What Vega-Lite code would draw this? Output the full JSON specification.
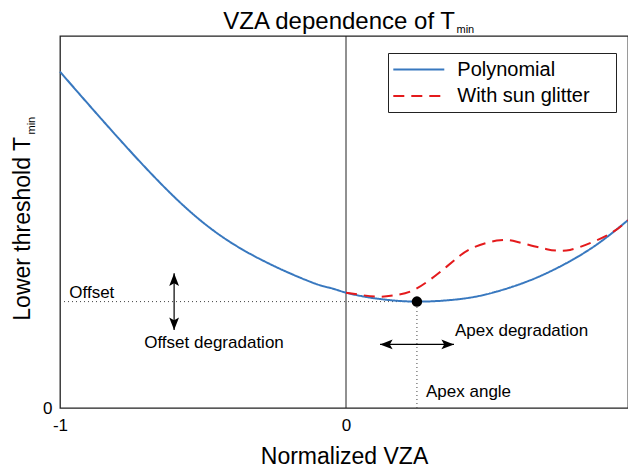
{
  "$schema": "https://vega.github.io/schema/vega-lite/v6.json",
  "width": 568,
  "height": 372,
  "autosize": {"type": "none"},
  "padding": {"left": 60, "top": 36, "right": 0, "bottom": 61},
  "background": "white",
  "config": {
    "view": {"stroke": "#222", "strokeWidth": 1.3},
    "font": "Liberation Sans",
    "text": {"font": "Liberation Sans", "color": "#000"}
  },
  "datasets": {
    "curves": [
      {"x": -1, "y": 0.904, "series": "Polynomial"},
      {"x": -0.837, "y": 0.761, "series": "Polynomial"},
      {"x": -0.604, "y": 0.570, "series": "Polynomial"},
      {"x": -0.371, "y": 0.430, "series": "Polynomial"},
      {"x": -0.137, "y": 0.343, "series": "Polynomial"},
      {"x": -0.056, "y": 0.323, "series": "Polynomial"},
      {"x": 0, "y": 0.310, "series": "Polynomial"},
      {"x": 0.06, "y": 0.300, "series": "Polynomial"},
      {"x": 0.119, "y": 0.293, "series": "Polynomial"},
      {"x": 0.248, "y": 0.286, "series": "Polynomial"},
      {"x": 0.410, "y": 0.294, "series": "Polynomial"},
      {"x": 0.527, "y": 0.313, "series": "Polynomial"},
      {"x": 0.643, "y": 0.343, "series": "Polynomial"},
      {"x": 0.760, "y": 0.385, "series": "Polynomial"},
      {"x": 0.876, "y": 0.439, "series": "Polynomial"},
      {"x": 0.986, "y": 0.505, "series": "Polynomial"},
      {"x": 0, "y": 0.310, "series": "With sun glitter"},
      {"x": 0.06, "y": 0.303, "series": "With sun glitter"},
      {"x": 0.119, "y": 0.299, "series": "With sun glitter"},
      {"x": 0.177, "y": 0.304, "series": "With sun glitter"},
      {"x": 0.249, "y": 0.322, "series": "With sun glitter"},
      {"x": 0.352, "y": 0.380, "series": "With sun glitter"},
      {"x": 0.434, "y": 0.427, "series": "With sun glitter"},
      {"x": 0.527, "y": 0.450, "series": "With sun glitter"},
      {"x": 0.597, "y": 0.447, "series": "With sun glitter"},
      {"x": 0.702, "y": 0.427, "series": "With sun glitter"},
      {"x": 0.783, "y": 0.425, "series": "With sun glitter"},
      {"x": 0.865, "y": 0.447, "series": "With sun glitter"},
      {"x": 0.935, "y": 0.474, "series": "With sun glitter"},
      {"x": 0.986, "y": 0.505, "series": "With sun glitter"}
    ],
    "guides": [
      {"x": -1, "y": 0.286, "x2": 0.248, "y2": 0.286},
      {"x": 0.248, "y": 0, "x2": 0.248, "y2": 0.286}
    ],
    "shafts": [
      {"x": -0.601, "y": 0.362, "x2": -0.601, "y2": 0.2097},
      {"x": 0.119, "y": 0.171, "x2": 0.3776, "y2": 0.171}
    ],
    "heads": [
      {"x": -0.601, "y": 0.362, "rot": 0},
      {"x": -0.601, "y": 0.2097, "rot": 180},
      {"x": 0.119, "y": 0.171, "rot": 270},
      {"x": 0.3776, "y": 0.171, "rot": 90}
    ],
    "leftNotes": [
      {"x": -0.9675, "y": 0.2965, "t": "Offset"},
      {"x": 0.381, "y": 0.1944, "t": "Apex degradation"},
      {"x": 0.2797, "y": 0.0304, "t": "Apex angle"}
    ],
    "centerNotes": [
      {"x": -0.4615, "y": 0.161, "t": "Offset degradation"}
    ]
  },
  "encoding": {
    "x": {
      "field": "x",
      "type": "quantitative",
      "scale": {"domain": [-1, 0.986], "nice": false, "zero": false},
      "axis": {
        "values": [-1, 0],
        "labelExpr": "datum.value < 0 ? '-1' : '0'",
        "labelFlush": false,
        "labelFontSize": 17,
        "labelPadding": 9,
        "labelColor": "#000",
        "labelFont": "Liberation Sans",
        "ticks": false,
        "domain": false,
        "grid": false,
        "title": "Normalized VZA",
        "titleFont": "Liberation Sans",
        "titleFontSize": 23,
        "titleFontWeight": "normal",
        "titleColor": "#000",
        "titlePadding": 12
      }
    },
    "y": {
      "field": "y",
      "type": "quantitative",
      "scale": {"domain": [0, 1], "nice": false, "zero": false},
      "axis": {
        "values": [0],
        "labelFontSize": 17,
        "labelPadding": 8,
        "labelColor": "#000",
        "labelFont": "Liberation Sans",
        "ticks": false,
        "domain": false,
        "grid": false,
        "title": null
      }
    }
  },
  "layer": [
    {
      "data": {"values": [{"x": 0, "y": 0, "y2": 1}]},
      "mark": {"type": "rule", "color": "#222", "strokeWidth": 1},
      "encoding": {"y2": {"field": "y2"}}
    },
    {
      "data": {"name": "guides"},
      "mark": {"type": "rule", "color": "#444", "strokeWidth": 1, "strokeDash": [1, 3]},
      "encoding": {"x2": {"field": "x2"}, "y2": {"field": "y2"}}
    },
    {
      "data": {"name": "curves"},
      "mark": {"type": "line", "strokeWidth": 2, "interpolate": "natural"},
      "encoding": {
        "color": {
          "field": "series",
          "type": "nominal",
          "scale": {"domain": ["Polynomial", "With sun glitter"], "range": ["#3878bf", "#e41a1c"]},
          "legend": {
            "orient": "none", "legendX": 328, "legendY": 17, "title": null,
            "labelFontSize": 20, "labelFont": "Liberation Sans", "labelColor": "#000",
            "symbolType": "M-2.5,0L2.5,0", "symbolSize": 416, "symbolStrokeWidth": 2,
            "symbolOffset": 14.3, "labelOffset": 27,
            "strokeColor": "#222", "fillColor": "white", "padding": 5, "rowPadding": 4.6,
            "labelExpr": "datum.label + '\u00a0\u00a0\u00a0\u2009\u200b'"
          }
        },
        "strokeDash": {
          "field": "series",
          "type": "nominal",
          "scale": {"domain": ["Polynomial", "With sun glitter"], "range": [[1, 0], [11, 7]]},
          "legend": {
            "orient": "none", "legendX": 328, "legendY": 17, "title": null,
            "labelFontSize": 20, "labelFont": "Liberation Sans", "labelColor": "#000",
            "symbolType": "M-2.5,0L2.5,0", "symbolSize": 416, "symbolStrokeWidth": 2,
            "symbolOffset": 14.3, "labelOffset": 27,
            "strokeColor": "#222", "fillColor": "white", "padding": 5, "rowPadding": 4.6,
            "labelExpr": "datum.label + '\u00a0\u00a0\u00a0\u2009\u200b'"
          }
        }
      }
    },
    {
      "data": {"values": [{"x": 0.248, "y": 0.286}]},
      "mark": {"type": "point", "filled": true, "color": "#000", "size": 110, "opacity": 1}
    },
    {
      "data": {"name": "shafts"},
      "mark": {"type": "rule", "color": "#000", "strokeWidth": 1.2},
      "encoding": {"x2": {"field": "x2"}, "y2": {"field": "y2"}}
    },
    {
      "data": {"name": "heads"},
      "mark": {"type": "point", "shape": "M0,0L0.7,1.8L0,1.4L-0.7,1.8Z", "filled": true, "color": "#000", "size": 196, "opacity": 1, "strokeWidth": 0},
      "encoding": {"angle": {"field": "rot", "type": "quantitative", "scale": null}}
    },
    {
      "data": {"name": "leftNotes"},
      "mark": {"type": "text", "align": "left", "baseline": "alphabetic", "fontSize": 17},
      "encoding": {"text": {"field": "t"}}
    },
    {
      "data": {"name": "centerNotes"},
      "mark": {"type": "text", "align": "center", "baseline": "alphabetic", "fontSize": 17},
      "encoding": {"text": {"field": "t"}}
    },
    {
      "data": {"values": [{"x": 0.381, "y": 1.0188, "t": "VZA dependence of T"}]},
      "mark": {"type": "text", "align": "right", "baseline": "alphabetic", "fontSize": 24},
      "encoding": {"text": {"field": "t"}}
    },
    {
      "data": {"values": [{"x": 0.3864, "y": 1.0094, "t": "min"}]},
      "mark": {"type": "text", "align": "left", "baseline": "alphabetic", "fontSize": 11},
      "encoding": {"text": {"field": "t"}}
    },
    {
      "data": {"values": [{"x": -1.1049, "y": 0.7285, "t": "Lower threshold T"}]},
      "mark": {"type": "text", "align": "right", "baseline": "alphabetic", "fontSize": 23, "angle": 270},
      "encoding": {"text": {"field": "t"}}
    },
    {
      "data": {"values": [{"x": -1.0874, "y": 0.7352, "t": "min"}]},
      "mark": {"type": "text", "align": "left", "baseline": "alphabetic", "fontSize": 11, "angle": 270},
      "encoding": {"text": {"field": "t"}}
    }
  ]
}
